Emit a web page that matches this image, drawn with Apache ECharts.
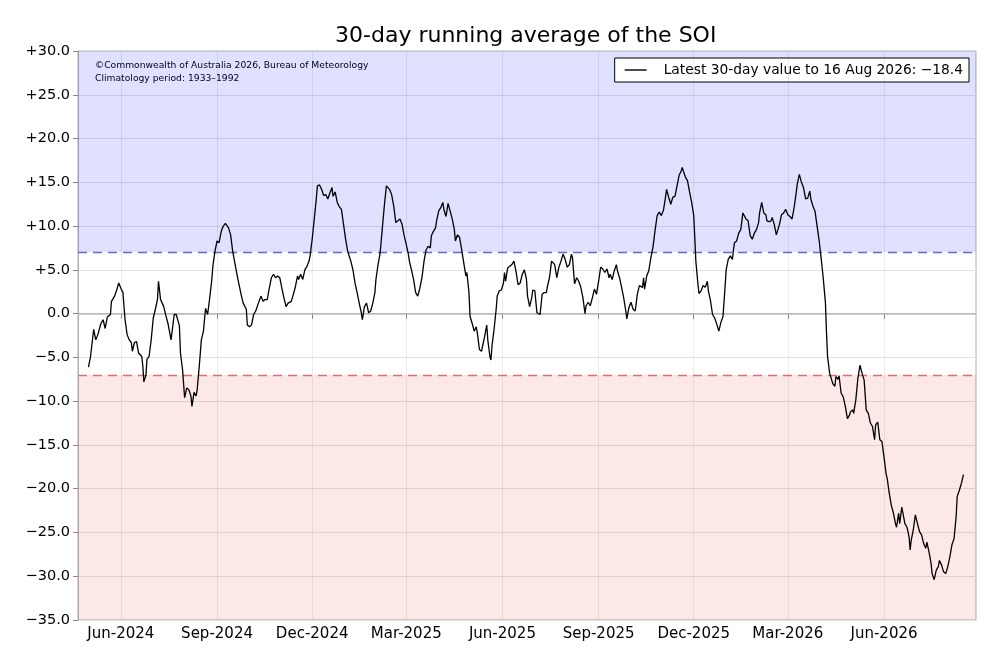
<!DOCTYPE html>
<html><head><meta charset="utf-8">
<script src="https://cdn.jsdelivr.net/npm/echarts@6/dist/echarts.min.js"></script>
<style>html,body{margin:0;padding:0;background:#fff}#c{width:1000px;height:667px}</style>
</head><body><div id="c"></div>
<script>
const dates = [
"2024-05-01","2024-05-03","2024-05-06","2024-05-08","2024-05-10","2024-05-13","2024-05-15","2024-05-17","2024-05-19","2024-05-22","2024-05-23","2024-05-26","2024-05-28","2024-05-30",
"2024-06-01","2024-06-03","2024-06-05","2024-06-07","2024-06-09","2024-06-11","2024-06-12","2024-06-14","2024-06-16","2024-06-18","2024-06-21","2024-06-22","2024-06-23","2024-06-25","2024-06-26","2024-06-28","2024-06-30",
"2024-07-02","2024-07-04","2024-07-06","2024-07-07","2024-07-09","2024-07-12","2024-07-14","2024-07-16","2024-07-19","2024-07-21","2024-07-22","2024-07-24","2024-07-27","2024-07-28","2024-07-30",
"2024-08-01","2024-08-03","2024-08-05","2024-08-07","2024-08-08","2024-08-10","2024-08-12","2024-08-13","2024-08-15","2024-08-17","2024-08-19","2024-08-21","2024-08-23","2024-08-25","2024-08-27","2024-08-28","2024-08-30",
"2024-09-01","2024-09-03","2024-09-05","2024-09-07","2024-09-09","2024-09-10","2024-09-12","2024-09-14","2024-09-16","2024-09-18","2024-09-21","2024-09-24","2024-09-26","2024-09-29","2024-09-30",
"2024-10-02","2024-10-04","2024-10-06","2024-10-08","2024-10-10","2024-10-13","2024-10-15","2024-10-17","2024-10-19","2024-10-21","2024-10-23","2024-10-25","2024-10-27","2024-10-29","2024-10-31",
"2024-11-02","2024-11-04","2024-11-06","2024-11-08","2024-11-11","2024-11-13","2024-11-15","2024-11-17","2024-11-18","2024-11-20","2024-11-22","2024-11-24","2024-11-26","2024-11-28","2024-11-29",
"2024-12-01","2024-12-03","2024-12-05","2024-12-06","2024-12-08","2024-12-10","2024-12-12","2024-12-14","2024-12-16","2024-12-18","2024-12-20","2024-12-21","2024-12-23","2024-12-25","2024-12-27","2024-12-29","2024-12-31",
"2025-01-02","2025-01-04","2025-01-07","2025-01-09","2025-01-11","2025-01-13","2025-01-15","2025-01-17","2025-01-18","2025-01-20","2025-01-22","2025-01-24","2025-01-26","2025-01-28","2025-01-30","2025-01-31",
"2025-02-02","2025-02-04","2025-02-06","2025-02-08","2025-02-10","2025-02-11","2025-02-13","2025-02-15","2025-02-17","2025-02-19","2025-02-21","2025-02-23","2025-02-25","2025-02-27",
"2025-03-01","2025-03-03","2025-03-04","2025-03-06","2025-03-08","2025-03-10","2025-03-12","2025-03-14","2025-03-16","2025-03-18","2025-03-20","2025-03-22","2025-03-24","2025-03-25","2025-03-27","2025-03-29","2025-03-30",
"2025-04-01","2025-04-03","2025-04-05","2025-04-06","2025-04-08","2025-04-10","2025-04-12","2025-04-14","2025-04-16","2025-04-17","2025-04-19","2025-04-21","2025-04-23","2025-04-25","2025-04-27","2025-04-28","2025-04-30",
"2025-05-01","2025-05-03","2025-05-05","2025-05-07","2025-05-08","2025-05-10","2025-05-12","2025-05-13","2025-05-15","2025-05-17","2025-05-18","2025-05-20","2025-05-21","2025-05-22","2025-05-24","2025-05-26","2025-05-27","2025-05-29","2025-05-31",
"2025-06-02","2025-06-03","2025-06-04","2025-06-06","2025-06-08","2025-06-10","2025-06-12","2025-06-14","2025-06-16","2025-06-18","2025-06-20","2025-06-22","2025-06-24","2025-06-25","2025-06-27","2025-06-29","2025-06-30",
"2025-07-02","2025-07-04","2025-07-07","2025-07-09","2025-07-11","2025-07-13","2025-07-14","2025-07-16","2025-07-18","2025-07-21","2025-07-23","2025-07-25","2025-07-27","2025-07-29","2025-07-31",
"2025-08-02","2025-08-04","2025-08-06","2025-08-07","2025-08-09","2025-08-11","2025-08-13","2025-08-15","2025-08-17","2025-08-19","2025-08-20","2025-08-22","2025-08-24","2025-08-26","2025-08-28","2025-08-30",
"2025-09-01","2025-09-03","2025-09-05","2025-09-07","2025-09-09","2025-09-11","2025-09-12","2025-09-14","2025-09-16","2025-09-18","2025-09-19","2025-09-21","2025-09-23","2025-09-25","2025-09-27","2025-09-28","2025-09-30",
"2025-10-02","2025-10-04","2025-10-06","2025-10-08","2025-10-10","2025-10-11","2025-10-13","2025-10-14","2025-10-15","2025-10-17","2025-10-19","2025-10-21","2025-10-23","2025-10-25","2025-10-27","2025-10-29","2025-10-31",
"2025-11-02","2025-11-04","2025-11-05","2025-11-07","2025-11-09","2025-11-11","2025-11-13","2025-11-15","2025-11-17","2025-11-19","2025-11-20","2025-11-21","2025-11-22","2025-11-23","2025-11-25","2025-11-27","2025-11-29",
"2025-12-01","2025-12-02","2025-12-03","2025-12-05","2025-12-06","2025-12-08","2025-12-10","2025-12-12","2025-12-14","2025-12-15","2025-12-17","2025-12-19","2025-12-21","2025-12-23","2025-12-25","2025-12-27","2025-12-29","2025-12-31",
"2026-01-01","2026-01-03","2026-01-05","2026-01-07","2026-01-08","2026-01-09","2026-01-11","2026-01-13","2026-01-15","2026-01-17","2026-01-18","2026-01-20","2026-01-22","2026-01-24","2026-01-26","2026-01-28","2026-01-30",
"2026-02-01","2026-02-02","2026-02-04","2026-02-06","2026-02-08","2026-02-09","2026-02-11","2026-02-13","2026-02-14","2026-02-16","2026-02-18","2026-02-19","2026-02-21","2026-02-23","2026-02-25","2026-02-27",
"2026-03-01","2026-03-03","2026-03-05","2026-03-07","2026-03-09","2026-03-10","2026-03-12","2026-03-14","2026-03-16","2026-03-18","2026-03-20","2026-03-22","2026-03-23","2026-03-25","2026-03-27","2026-03-29","2026-03-31",
"2026-04-02","2026-04-04","2026-04-06","2026-04-07","2026-04-08","2026-04-10","2026-04-13","2026-04-15","2026-04-16","2026-04-18","2026-04-19","2026-04-21","2026-04-23","2026-04-25","2026-04-27","2026-04-29","2026-04-30",
"2026-05-02","2026-05-03","2026-05-04","2026-05-05","2026-05-07","2026-05-09","2026-05-11","2026-05-13","2026-05-15","2026-05-17","2026-05-19","2026-05-21","2026-05-23","2026-05-24","2026-05-26","2026-05-28","2026-05-30",
"2026-06-01","2026-06-03","2026-06-04","2026-06-06","2026-06-08","2026-06-10","2026-06-12","2026-06-13","2026-06-15","2026-06-16","2026-06-18","2026-06-19","2026-06-21","2026-06-23","2026-06-25","2026-06-26","2026-06-27","2026-06-29",
"2026-07-01","2026-07-03","2026-07-05","2026-07-07","2026-07-09","2026-07-11","2026-07-12","2026-07-14","2026-07-16","2026-07-17","2026-07-19","2026-07-21","2026-07-23","2026-07-24","2026-07-26","2026-07-28","2026-07-30",
"2026-08-01","2026-08-03","2026-08-05","2026-08-07","2026-08-09","2026-08-10","2026-08-12","2026-08-14","2026-08-16"
];
const soi = [
-6.1,-4.9,-1.8,-3.0,-2.4,-1.1,-0.7,-1.7,-0.4,-0.1,1.4,2.0,2.7,3.5,
2.9,2.4,-0.7,-2.4,-3.0,-3.3,-4.3,-3.3,-3.2,-4.5,-4.9,-6.0,-7.8,-7.0,-5.2,-4.9,-3.0,
-0.5,0.5,1.6,3.7,1.6,0.8,-0.2,-1.1,-3.0,-1.1,-0.1,-0.1,-1.4,-4.5,-6.4,
-9.6,-8.5,-8.7,-9.4,-10.6,-9.0,-9.4,-8.7,-6.0,-3.0,-2.0,0.6,-0.1,1.8,3.9,5.4,7.1,
8.3,8.1,9.4,10.0,10.3,10.5,9.8,9.0,7.1,5.8,3.9,2.2,1.2,0.5,-1.3,
-1.5,-1.3,-0.1,0.3,1.0,2.0,1.4,1.6,1.6,2.9,4.1,4.5,4.1,4.3,4.1,
2.9,1.8,0.8,1.2,1.4,2.2,3.1,4.3,3.9,4.5,3.9,5.0,5.4,6.0,6.6,
8.5,10.8,13.2,14.6,14.7,14.2,13.5,13.6,13.1,13.8,14.4,13.4,13.9,12.7,12.2,11.9,10.2,
8.5,7.1,6.0,5.0,3.5,2.4,1.2,0.1,-0.7,0.8,1.2,0.1,0.3,1.2,2.4,3.9,
5.6,6.9,9.6,12.3,14.6,14.8,14.2,13.6,12.3,10.4,10.6,10.8,10.2,8.9,
7.9,6.8,6.0,5.0,3.9,2.4,2.0,2.9,4.1,6.0,7.3,7.7,7.5,8.9,9.4,9.8,10.6,
11.7,12.1,12.7,11.9,11.1,12.6,11.7,10.8,9.6,8.3,9.0,8.7,7.3,5.8,4.3,4.7,2.4,
-0.3,-1.1,-2.0,-1.5,-2.2,-4.1,-4.3,-3.7,-2.6,-1.3,-3.0,-4.9,-5.3,-3.7,-1.8,0.5,2.0,2.6,2.7,
3.5,4.7,3.7,5.2,5.4,5.6,6.0,4.8,3.3,3.5,4.5,5.0,3.9,2.0,0.8,1.8,2.7,
2.6,0.1,-0.1,2.2,2.4,2.4,3.1,4.1,6.0,5.6,4.1,5.3,6.0,6.8,6.2,
5.3,5.6,6.8,6.4,3.4,4.1,3.7,3.0,1.8,0.0,0.9,1.3,0.9,1.8,2.8,2.2,
3.7,5.3,5.1,4.7,5.1,4.1,4.5,3.9,4.9,5.6,4.9,4.1,3.0,1.8,0.3,-0.6,0.7,
1.3,0.5,0.3,2.2,3.2,3.4,3.0,4.1,2.8,4.3,4.9,6.4,7.6,9.5,11.2,11.6,11.2,
11.8,13.3,14.2,13.3,12.5,13.3,13.4,14.6,15.8,16.3,16.7,16.3,16.5,15.6,15.2,13.9,12.7,
11.2,8.7,6.0,3.4,2.3,2.6,3.2,3.0,3.7,2.6,1.5,-0.1,-0.5,-1.2,-2.0,-1.0,-0.3,3.1,
5.0,6.2,6.6,6.2,7.3,8.1,8.3,9.2,9.6,11.5,11.7,10.8,10.6,8.9,8.5,9.2,9.6,
10.4,11.5,12.7,11.5,11.3,10.6,10.5,10.6,11.0,10.2,9.0,8.9,10.2,11.3,11.5,11.9,
11.3,11.1,10.8,12.1,13.8,14.8,15.9,15.0,14.4,13.1,13.2,14.0,13.1,12.3,11.7,10.0,8.3,
6.2,3.9,1.2,-2.2,-4.9,-6.8,-8.0,-8.3,-7.2,-7.5,-7.1,-9.1,-9.5,-10.6,-12.0,-11.6,-11.2,
-11.0,-11.4,-10.6,-9.9,-7.4,-5.9,-6.8,-7.6,-11.0,-11.4,-12.5,-12.9,-14.4,-12.7,-12.4,-14.4,-14.6,
-16.4,-18.3,-18.8,-20.5,-21.9,-22.8,-24.0,-24.4,-22.8,-24.0,-22.1,-22.0,-24.0,-24.4,-25.5,-27.0,-25.9,-24.7,
-23.0,-24.0,-24.9,-25.3,-26.3,-26.8,-26.1,-27.2,-28.5,-29.7,-30.4,-29.3,-28.9,-28.2,-28.7,-29.5,-29.7,
-28.9,-27.8,-26.4,-25.7,-23.2,-20.9,-20.2,-19.4,-18.4
];
const xTickDates = ["2024-06-01","2024-09-01","2024-12-01","2025-03-01","2025-06-01","2025-09-01","2025-12-01","2026-03-01","2026-06-01"];
const monthNames = ["Jan","Feb","Mar","Apr","May","Jun","Jul","Aug","Sep","Oct","Nov","Dec"];
const titleText = "30-day running average of the SOI";
const legendText = "Latest 30-day value to 16 Aug 2026: \u221218.4";
const noteLines = ["\u00a9Commonwealth of Australia 2026, Bureau of Meteorology", "Climatology period: 1933\u20131992"];
const xMin = "2024-04-21", xMax = "2026-08-28";
const yMin = -35, yMax = 30, yStep = 5, upperThresh = 7, lowerThresh = -7;

const ts = s => { const [y,m,d] = s.split('-').map(Number); return Date.UTC(y, m-1, d); };
const lineData = dates.map((d,i) => [ts(d), soi[i]]);
const tickTs = xTickDates.map(ts);
const font = "DejaVu Sans";

const chart = echarts.init(document.getElementById('c'), null, {renderer:'canvas'});
chart.setOption({
  animation: false,
  backgroundColor: '#fff',
  title: { text: titleText, left: 330, top: 20, textStyle: { fontFamily: font, fontSize: 22, fontWeight: 'normal', color: '#000' } },
  legend: {
    right: 31, top: 58, data: [{ name: legendText, icon: 'rect' }],
    backgroundColor: '#fff', borderColor: '#000', borderWidth: 1, borderRadius: 0,
    padding: [5, 6, 5, 10], itemWidth: 22, itemHeight: 1.4, itemGap: 10,
    textStyle: { fontFamily: font, fontSize: 13.8, color: '#000', padding: [0,0,0,12] }
  },
  graphic: [
    { type: 'text', left: 95, top: 61, style: { text: noteLines[0], font: '9.2px ' + font, fill: '#000' } },
    { type: 'text', left: 95, top: 74, style: { text: noteLines[1], font: '9.2px ' + font, fill: '#000' } }
  ],
  grid: { left: 78, right: 24, top: 51, bottom: 47, show: true, borderColor: '#b0b0b0', borderWidth: 1, backgroundColor: 'transparent' },
  xAxis: {
    type: 'value', min: ts(xMin), max: ts(xMax), scale: true,
    axisLine: { show: true, lineStyle: { color: '#b0b0b0' } },
    axisTick: { show: true, customValues: tickTs, length: 5, lineStyle: { color: '#888' } },
    axisLabel: { customValues: tickTs, fontFamily: font, fontSize: 15, color: '#000', margin: 7,
      formatter: v => { const d = new Date(v); return monthNames[d.getUTCMonth()] + '-' + d.getUTCFullYear(); } },
    splitLine: { show: false }
  },
  yAxis: {
    type: 'value', min: yMin, max: yMax, interval: yStep,
    axisLine: { show: true, lineStyle: { color: '#b0b0b0' } },
    axisTick: { show: true, length: 5, lineStyle: { color: '#888' } },
    axisLabel: { fontFamily: font, fontSize: 14.5, color: '#000', margin: 8,
      formatter: v => v > 0 ? '+' + v.toFixed(1) : (v < 0 ? '\u2212' + Math.abs(v).toFixed(1) : '0.0') },
    splitLine: { show: true, lineStyle: { color: '#e2e2e2', width: 1 } }
  },
  series: [
    {
      name: 'bands', type: 'line', data: [], silent: true, z: 1,
      markArea: { silent: true, data: [
        [ { yAxis: upperThresh, itemStyle: { color: 'rgba(0,0,255,0.122)' } }, { yAxis: yMax } ],
        [ { yAxis: yMin, itemStyle: { color: 'rgba(233,0,0,0.09)' } }, { yAxis: lowerThresh } ]
      ] },
      markLine: { silent: true, symbol: 'none', label: { show: false }, animation: false, data: [
        ...tickTs.map(t => ({ xAxis: t, lineStyle: { color: 'rgba(0,0,0,0.07)', type: 'solid', width: 1 } })),
        { yAxis: 0, lineStyle: { color: '#bbbbbb', type: 'solid', width: 1.5 } },
        { yAxis: upperThresh, lineStyle: { color: '#6a6ac4', type: [9, 6], width: 1.3 } },
        { yAxis: lowerThresh, lineStyle: { color: '#d97070', type: [9, 6], width: 1.3 } }
      ] }
    },
    {
      name: legendText, type: 'line', data: lineData, symbol: 'none', showSymbol: false, z: 5,
      lineStyle: { color: '#000', width: 1.3 }, itemStyle: { color: '#000' }
    }
  ]
});
</script></body></html>
